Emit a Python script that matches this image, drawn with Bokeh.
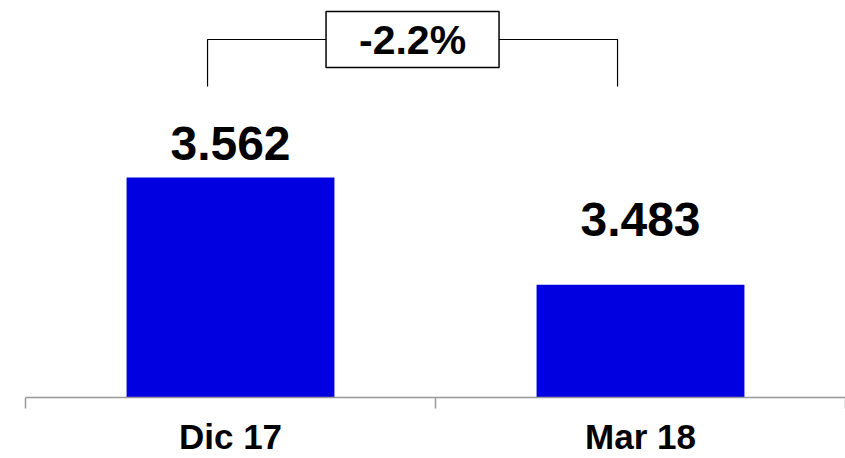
from bokeh.plotting import figure
from bokeh.models import Range1d, FixedTicker, CustomJSTickFormatter, ColumnDataSource
from bokeh.core.properties import value
from bokeh.embed import file_html
from bokeh.resources import INLINE

# ---- data ----
categories = ["Dic 17", "Mar 18"]
values = [3.562, 3.483]
value_labels = ["3.562", "3.483"]
change_label = "-2.2%"

# ---- style ----
BAR_COLOR = "#0000E1"
FONT = "Liberation Sans"
baseline = 3.4
y_top = 3.6923
bar_width = 0.507
label_offsets = [-34, -65]          # px offsets of value labels from bar top
bracket_shift = -0.056              # bracket legs left of bar centres
bracket_top = 3.6636
bracket_bottom = 3.629

xs = [i + 0.5 for i in range(len(categories))]

p = figure(width=845, height=458, output_backend="svg", toolbar_location=None,
           x_range=Range1d(0, len(categories)), y_range=Range1d(baseline, y_top),
           y_axis_location=None, min_border_left=25, min_border_right=0,
           min_border_top=0, min_border_bottom=61)
p.grid.visible = False
p.outline_line_color = None
p.background_fill_color = "white"
p.border_fill_color = "white"

src = ColumnDataSource(dict(x=xs, top=values, lab=value_labels, off=label_offsets))
p.vbar(x="x", top="top", bottom=baseline, width=bar_width, source=src,
       fill_color=BAR_COLOR, line_color=None)
p.text(x="x", y="top", text="lab", y_offset="off", source=src,
       text_align="center", text_baseline="alphabetic",
       text_font=value(FONT), text_font_style="bold", text_font_size="48px",
       text_color="black")

# bracket showing change
lx = xs[0] + bracket_shift
rx = xs[1] + bracket_shift
mx = (lx + rx) / 2
p.line(x=[lx, lx, rx, rx], y=[bracket_bottom, bracket_top, bracket_top, bracket_bottom],
       line_color="black", line_width=1.2)
p.rect(x=[mx], y=[bracket_top], width=173, height=56, width_units="screen",
       height_units="screen", fill_color="white", line_color="black", line_width=1.5)
p.text(x=[mx], y=[bracket_top], text=[change_label], text_align="center",
       text_baseline="middle", y_offset=1,
       text_font=value(FONT), text_font_style="bold", text_font_size="41px",
       text_color="black")

ax = p.xaxis[0]
ax.ticker = FixedTicker(ticks=xs, minor_ticks=list(range(len(categories) + 1)))
ax.formatter = CustomJSTickFormatter(args=dict(cats=categories),
                                     code="return cats[Math.floor(tick)];")
ax.major_tick_line_color = None
ax.major_tick_in = 0
ax.major_tick_out = 0
ax.minor_tick_in = 0
ax.minor_tick_out = 11
ax.minor_tick_line_color = "#999999"
ax.minor_tick_line_width = 1.5
ax.axis_line_color = "#999999"
ax.axis_line_width = 1.5
ax.major_label_standoff = 8
ax.major_label_text_font = FONT
ax.major_label_text_font_style = "bold"
ax.major_label_text_font_size = "35px"
ax.major_label_text_color = "black"

open("out.html", "w").write(file_html(p, INLINE))
